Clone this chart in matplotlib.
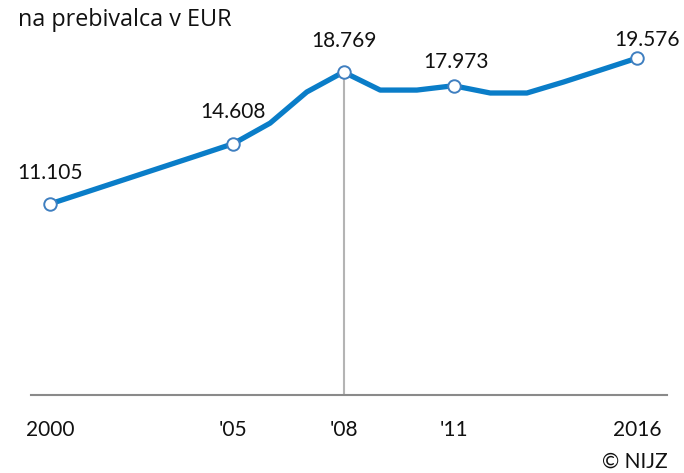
import matplotlib
matplotlib.use("Agg")
import matplotlib.pyplot as plt

# ------------------------- Data ------------------------- #
years = list(range(2000, 2017))
values = [11.105, 11.80, 12.50, 13.20, 13.90, 14.608, 15.80, 17.61, 18.769,
          17.72, 17.72, 17.973, 17.55, 17.55, 18.19, 18.88, 19.576]
marked_years = [2000, 2005, 2008, 2011, 2016]
marked_labels = ["11.105", "14.608", "18.769", "17.973", "19.576"]
tick_years = [2000, 2005, 2008, 2011, 2016]
tick_labels = ["2000", "'05", "'08", "'11", "2016"]

# label offsets in points (dx, dy) relative to the marker
label_offsets = [(0, 22), (0, 23), (0, 22), (2, 17), (7, 13)]

LINE_COLOR = "#0a7dc8"
plt.rcParams['font.family'] = ['Lato', 'DejaVu Sans']

W, H = 684, 473
fig = plt.figure(figsize=(W / 100, H / 100), dpi=100)
ax = fig.add_axes([31 / W, 1 - 395 / H, (667 - 31) / W, (395 - 40) / H])

ax.axvline(2008, ymin=0, ymax=values[years.index(2008)] / 20.63,
           color="#b4b4b4", lw=1.5, zorder=1)
ax.plot(years, values, color=LINE_COLOR, lw=3.8, solid_capstyle="butt", zorder=2)
mv = [values[years.index(y)] for y in marked_years]
ax.plot(marked_years, mv, "o", ms=9, mfc="white", mec="#3f7fc0", mew=1.4, zorder=3)

for y, v, lab, off in zip(marked_years, mv, marked_labels, label_offsets):
    ax.annotate(lab, (y, v), xytext=off, textcoords="offset points",
                ha="center", va="center", fontsize=15, color="#111111")

ax.set_xlim(2000 - 19 / 36.69, 2016 + 30 / 36.69)
ax.set_ylim(0, 20.63)

for s in ["top", "right", "left"]:
    ax.spines[s].set_visible(False)
ax.spines["bottom"].set_color("#8a8a8a")
ax.spines["bottom"].set_linewidth(1.5)
ax.set_yticks([])
ax.set_xticks(tick_years)
ax.set_xticklabels(tick_labels, fontsize=15, color="#111111")
ax.tick_params(axis="x", length=0, pad=18)

fig.text(18 / W, 1 - 20 / H, "na prebivalca v EUR", fontsize=16.8,
         family=["Open Sans", "DejaVu Sans"],
         ha="left", va="center", color="#111111")
fig.text(668 / W, 1 - 462 / H, "© NIJZ", fontsize=15,
         ha="right", va="center", color="#111111")

fig.savefig("out.png", dpi=100)
